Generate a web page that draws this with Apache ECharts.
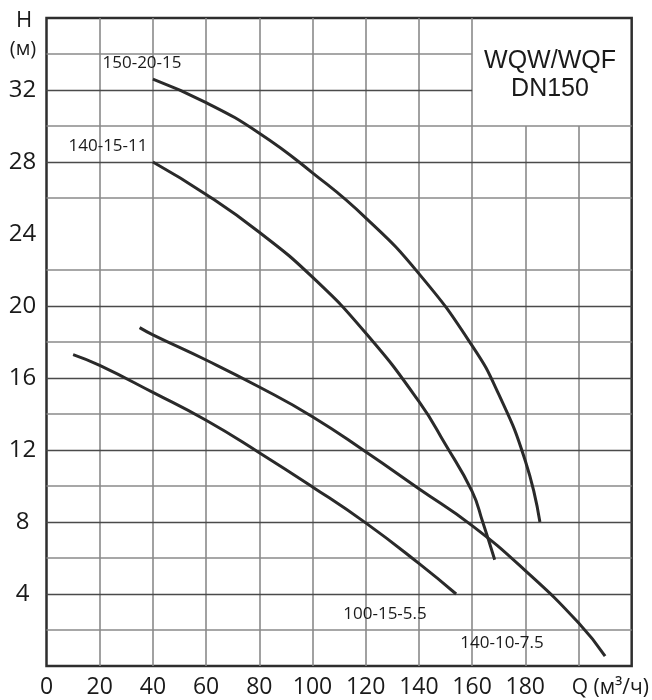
<!DOCTYPE html>
<html>
<head>
<meta charset="utf-8">
<script src="https://cdn.jsdelivr.net/npm/echarts@6/dist/echarts.min.js"></script>
<style>
html,body{margin:0;padding:0;background:#fff;}
#chart{width:652px;height:700px;}
</style>
</head>
<body>
<div id="chart"></div>
<script>
// ---- data (Q m3/h, H m) ----
const curve150_20_15 = [[40,32.6],[60,31.3],[80,29.6],[100,27.4],[120,24.9],[140,21.8],[160,17.8],[170,15.1],[180,11.4],[185.5,8.0]];
const curve140_15_11 = [[40,28.0],[60,26.2],[80,24.1],[100,21.6],[120,18.5],[140,14.7],[150,12.3],[160,9.7],[164,8.0],[168.5,5.9]];
const curve140_10_7_5 = [[35,18.8],[40,18.4],[60,17.0],[80,15.5],[100,13.85],[120,11.9],[140,9.85],[160,7.8],[180,5.3],[200,2.4],[210,0.55]];
const curve100_15_5_5 = [[10,17.3],[20,16.7],[40,15.2],[60,13.65],[80,11.85],[100,9.95],[120,7.95],[140,5.7],[154,4.0]];
const curveNames = ['150-20-15','140-15-11','140-10-7.5','100-15-5.5'];
const xTickLabels = [0,20,40,60,80,100,120,140,160,180];
const yTickLabels = [4,8,12,16,20,24,28,32];
const xGridValues = [20,40,60,80,100,120,140,160,180,200];
const yGridValues = [2,4,6,8,10,12,14,16,18,20,22,26,28,30,32,34];
const titleLines = ['WQW/WQF','DN150'];

const X_MAX = 220, Y_MAX = 36;
const BOX_X = 160, BOX_Y = 30; // title box corner

// gridline segments (title box area left empty)
const gridSegs = [];
xGridValues.forEach(x => {
  const top = x > BOX_X ? BOX_Y : Y_MAX;
  gridSegs.push([{coord:[x,0], lineStyle:{color:'#8a8a8a', width:1.6, type:'solid'}}, {coord:[x,top]}]);
});
yGridValues.forEach(y => {
  const right = y > BOX_Y ? BOX_X : X_MAX;
  const dark = y % 4 === 0;
  gridSegs.push([{coord:[0,y], lineStyle:{color: dark ? '#4a4a4a' : '#8a8a8a', width: dark ? 1.3 : 1.6, type:'solid'}}, {coord:[right,y]}]);
});

const FONT = '"Open Sans", "Noto Sans", sans-serif';
const curveStyle = {color:'#2a2a2a', width:3};
function curveSeries(name, data){
  return {type:'line', name, data, smooth:0.5, showSymbol:false, symbol:'none',
    lineStyle:curveStyle, z:5, silent:true};
}
function txt(x, y, text, font){
  return {type:'text', x, y, z:10, style:{text, font, fill:'#1a1a1a', align:'center', verticalAlign:'middle', textAlign:'center', textVerticalAlign:'middle'}};
}

const chart = echarts.init(document.getElementById('chart'), null, {renderer:'canvas'});
chart.setOption({
  animation:false,
  backgroundColor:'#fff',
  grid:{left:46.5, right:19.5, top:18, bottom:34, show:true, borderColor:'#2e2e2e', borderWidth:2.5, backgroundColor:'transparent'},
  xAxis:{type:'value', min:0, max:X_MAX, interval:20,
    axisLine:{show:false}, axisTick:{show:false}, splitLine:{show:false},
    axisLabel:{margin:10, fontSize:23, fontFamily:FONT, color:'#1a1a1a',
      formatter:v => xTickLabels.indexOf(v) >= 0 ? String(v) : ''},
    name:'Q (м³/ч)', nameLocation:'end', nameGap:-60,
    nameTextStyle:{fontSize:21, fontFamily:FONT, color:'#1a1a1a', align:'left', verticalAlign:'top', padding:[12,0,0,0]}
  },
  yAxis:{type:'value', min:0, max:Y_MAX, interval:4,
    axisLine:{show:false}, axisTick:{show:false}, splitLine:{show:false},
    axisLabel:{margin:24, align:'center', fontSize:24, fontFamily:FONT, color:'#1a1a1a',
      formatter:v => yTickLabels.indexOf(v) >= 0 ? String(v) : ''}
  },
  graphic:[
    txt(24, 21, 'H', '22px '+FONT),
    txt(23, 49, '(м)', '20px '+FONT),
    txt(550, 61, titleLines[0], '25px "Liberation Sans", Arial, sans-serif'),
    txt(550, 89, titleLines[1], '25px "Liberation Sans", Arial, sans-serif'),
    txt(142, 63, curveNames[0], '17px '+FONT),
    txt(108, 146, curveNames[1], '17px '+FONT),
    txt(502, 643, curveNames[2], '17px '+FONT),
    txt(385, 614, curveNames[3], '17px '+FONT)
  ],
  series:[
    {type:'line', data:[[0,0]], showSymbol:false, symbol:'none', lineStyle:{width:0}, z:1, silent:true,
      markLine:{silent:true, symbol:['none','none'], label:{show:false}, animation:false, data:gridSegs}},
    curveSeries(curveNames[0], curve150_20_15),
    curveSeries(curveNames[1], curve140_15_11),
    curveSeries(curveNames[2], curve140_10_7_5),
    curveSeries(curveNames[3], curve100_15_5_5)
  ]
});
</script>
</body>
</html>
